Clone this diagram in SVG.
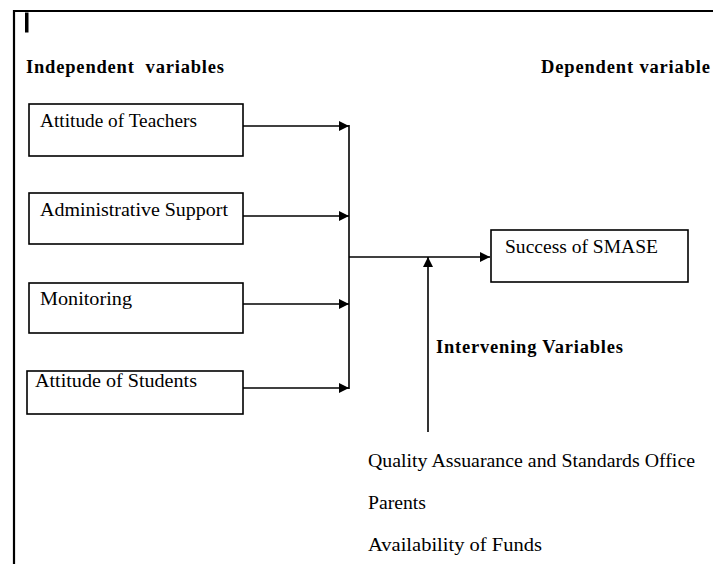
<svg xmlns="http://www.w3.org/2000/svg" width="713" height="564" viewBox="0 0 713 564">
<style>
  .box { fill: #fff; stroke: #000; stroke-width: 1.6; }
  .txt { font-family: "Liberation Serif", "Times New Roman", serif; font-size: 18px; fill: #000; }
  .hdr { font-family: "Liberation Serif", "Times New Roman", serif; font-size: 18.5px; font-weight: bold; fill: #000; }
  .ln { stroke: #000; stroke-width: 1.6; fill: none; }
  .frame { stroke: #000; stroke-width: 2.2; fill: none; }
</style>
<defs>
  <marker id="arr" viewBox="0 0 10 10" refX="10" refY="5" markerWidth="10" markerHeight="10" markerUnits="userSpaceOnUse" orient="auto">
    <path d="M0,0 L10,5 L0,10 Z" fill="#000"/>
  </marker>
</defs>
<rect width="713" height="564" fill="#fff"/>
<g id="frame">
  <path class="frame" d="M14,564 L14,11 L713,11"/>
  <rect x="25" y="12.5" width="3.5" height="20" fill="#000"/>
</g>
<g id="headers">
  <text class="hdr" x="26" y="73" textLength="198" lengthAdjust="spacing" xml:space="preserve">Independent  variables</text>
  <text class="hdr" x="541" y="73" textLength="169" lengthAdjust="spacing">Dependent variable</text>
  <text class="hdr" x="436" y="353" textLength="187" lengthAdjust="spacing">Intervening Variables</text>
</g>
<g id="connectors">
  <line class="ln" x1="243" y1="126" x2="349" y2="126" marker-end="url(#arr)"/>
  <line class="ln" x1="243" y1="216" x2="349" y2="216" marker-end="url(#arr)"/>
  <line class="ln" x1="243" y1="304" x2="349" y2="304" marker-end="url(#arr)"/>
  <line class="ln" x1="243" y1="388" x2="349" y2="388" marker-end="url(#arr)"/>
  <line class="ln" x1="349" y1="125" x2="349" y2="389"/>
  <line class="ln" x1="349" y1="257" x2="490" y2="257" marker-end="url(#arr)"/>
  <line class="ln" x1="428" y1="432" x2="428" y2="257" marker-end="url(#arr)"/>
</g>
<g id="n1">
  <rect class="box" x="29" y="104" width="214" height="52"/>
  <text class="txt" x="40" y="127" textLength="157" lengthAdjust="spacingAndGlyphs">Attitude of Teachers</text>
</g>
<g id="n2">
  <rect class="box" x="29" y="193" width="214" height="51"/>
  <text class="txt" x="40" y="216" textLength="188" lengthAdjust="spacingAndGlyphs">Administrative Support</text>
</g>
<g id="n3">
  <rect class="box" x="29" y="283" width="214" height="50"/>
  <text class="txt" x="40" y="305" textLength="92" lengthAdjust="spacingAndGlyphs">Monitoring</text>
</g>
<g id="n4">
  <rect class="box" x="27" y="371" width="216" height="43"/>
  <text class="txt" x="35" y="387" textLength="162" lengthAdjust="spacingAndGlyphs">Attitude of Students</text>
</g>
<g id="n5">
  <rect class="box" x="491" y="230" width="197" height="52"/>
  <text class="txt" x="505" y="253" textLength="153" lengthAdjust="spacingAndGlyphs">Success of SMASE</text>
</g>
<g id="intervening">
  <text class="txt" x="368" y="467" textLength="327" lengthAdjust="spacingAndGlyphs">Quality Assuarance and Standards Office</text>
  <text class="txt" x="368" y="509" textLength="58" lengthAdjust="spacingAndGlyphs">Parents</text>
  <text class="txt" x="368" y="551" textLength="174" lengthAdjust="spacingAndGlyphs">Availability of Funds</text>
</g>
</svg>
